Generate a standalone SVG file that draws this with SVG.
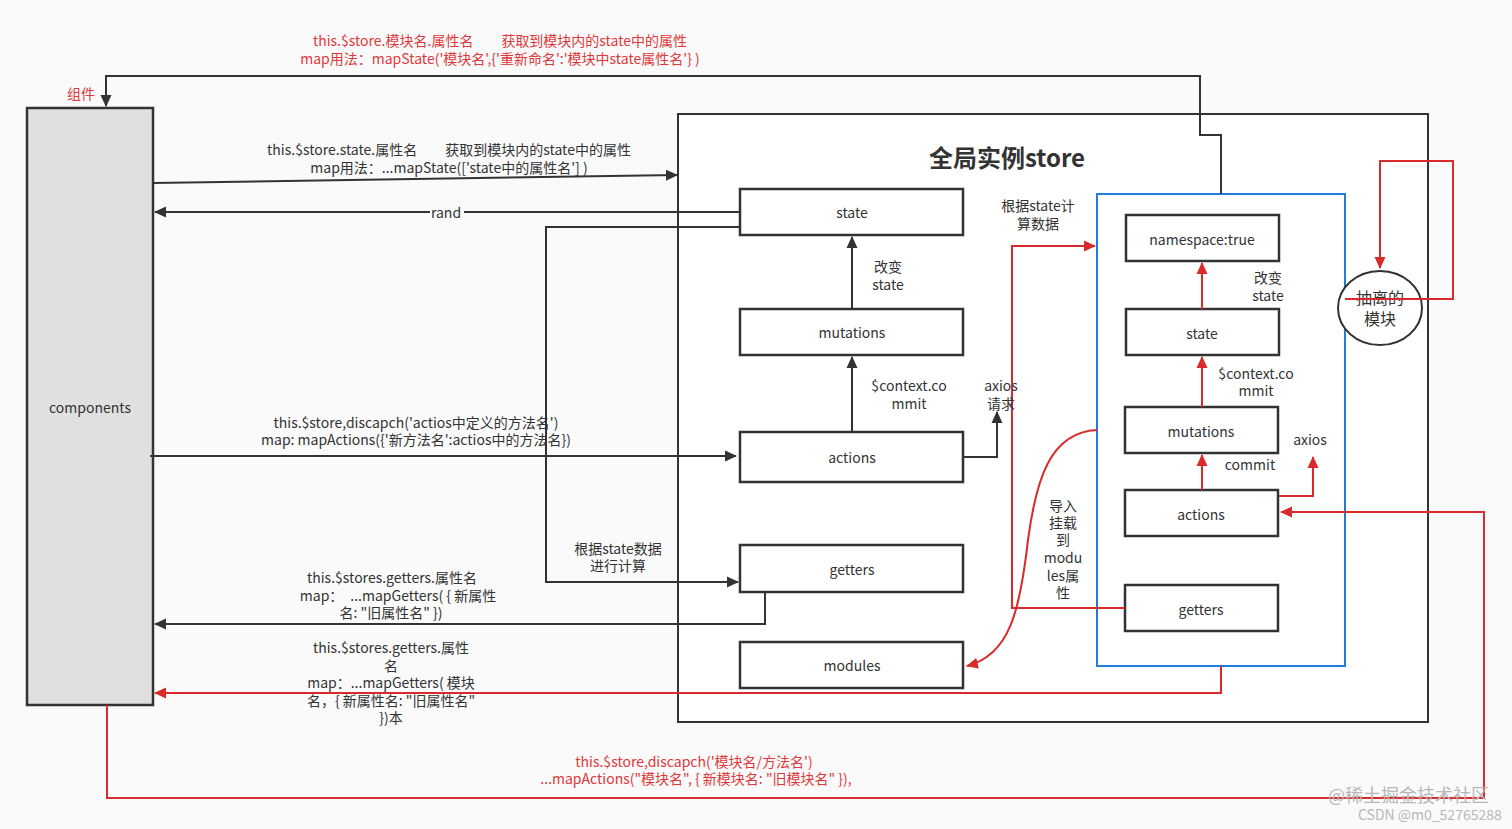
<svg xmlns="http://www.w3.org/2000/svg" width="1512" height="829" viewBox="0 0 1512 829">
<defs>
<marker id="ad" viewBox="0 0 12 12" refX="11" refY="6" markerWidth="12" markerHeight="12" markerUnits="userSpaceOnUse" orient="auto"><path d="M0,0.5 L12,6 L0,11.5 z" fill="#333"/></marker>
<marker id="ar" viewBox="0 0 12 12" refX="11" refY="6" markerWidth="12" markerHeight="12" markerUnits="userSpaceOnUse" orient="auto"><path d="M0,0.5 L12,6 L0,11.5 z" fill="#d92b2b"/></marker>
<style>
text{font-family:"Noto Sans CJK SC","Liberation Sans",sans-serif;font-size:14px;fill:#333;text-anchor:middle}
.red{fill:#e0383a}
.box{fill:#fff;stroke:#333;stroke-width:2.5}
.d{fill:none;stroke:#333;stroke-width:2}
.r{fill:none;stroke:#d92b2b;stroke-width:2}
.wm{fill:#b8b8b8;text-anchor:start}
</style>
</defs>
<rect width="1512" height="829" fill="#fafafa"/>

<g id="store">
<rect x="678" y="114" width="750" height="608" fill="#fff" stroke="#333" stroke-width="2"/>
<text x="1007" y="167" style="font-size:24px;font-weight:bold">全局实例store</text>
</g>
<g id="components">
<rect x="27" y="108" width="126" height="597" fill="#e0e0e0" stroke="#333" stroke-width="2.5"/>
<text x="90" y="413">components</text>
</g>
<g id="module-box">
<rect x="1097" y="194" width="248" height="472" fill="#fff" stroke="#1f7fd8" stroke-width="2"/>
</g>

<g id="state"><rect class="box" x="740" y="189" width="223" height="46"/><text x="852" y="218">state</text></g>
<g id="mutations"><rect class="box" x="740" y="309" width="223" height="46"/><text x="852" y="338">mutations</text></g>
<g id="actions"><rect class="box" x="740" y="432" width="223" height="50"/><text x="852" y="463">actions</text></g>
<g id="getters"><rect class="box" x="740" y="545" width="223" height="47"/><text x="852" y="575">getters</text></g>
<g id="modules"><rect class="box" x="740" y="642" width="223" height="46"/><text x="852" y="671">modules</text></g>

<g id="m-namespace"><rect class="box" x="1126" y="215" width="153" height="46"/><text x="1202" y="245">namespace:true</text></g>
<g id="m-state"><rect class="box" x="1126" y="309" width="153" height="46"/><text x="1202" y="339">state</text></g>
<g id="m-mutations"><rect class="box" x="1125" y="407" width="153" height="46"/><text x="1201" y="437">mutations</text></g>
<g id="m-actions"><rect class="box" x="1125" y="490" width="153" height="46"/><text x="1201" y="520">actions</text></g>
<g id="m-getters"><rect class="box" x="1125" y="585" width="153" height="46"/><text x="1201" y="615">getters</text></g>

<g id="detached">
<ellipse cx="1380" cy="308" rx="42" ry="37" fill="#fff" stroke="#333" stroke-width="2"/>
<text x="1380" y="304" style="font-size:16px">抽离的</text>
<text x="1380" y="325" style="font-size:16px">模块</text>
</g>

<g id="connectors">
<path class="d" d="M1221,194 V135 H1200 V76 H106 V106" marker-end="url(#ad)"/>
<path class="d" d="M153,183 L677,175" marker-end="url(#ad)"/>
<path class="d" d="M740,212 H155" marker-end="url(#ad)"/>
<rect x="430" y="204" width="34" height="17" fill="#fafafa"/>
<text x="446" y="218">rand</text>
<path class="d" d="M740,227 H546 V582 H738" marker-end="url(#ad)"/>
<path class="d" d="M150,456 H736" marker-end="url(#ad)"/>
<path class="d" d="M765,592 V624 H155" marker-end="url(#ad)"/>
<path class="d" d="M852,309 V237" marker-end="url(#ad)"/>
<path class="d" d="M852,432 V357" marker-end="url(#ad)"/>
<path class="d" d="M963,457 H997 V412" marker-end="url(#ad)"/>

<path class="r" d="M1125,608 H1012 V246 H1095" marker-end="url(#ar)"/>
<path class="r" d="M1097,430 C1050,432 1036,480 1028,540 C1020,610 1010,655 967,666" marker-end="url(#ar)"/>
<path class="r" d="M1221,666 V693 H155" marker-end="url(#ar)"/>
<path class="r" d="M107,705 V798 H1484 V512 H1281" marker-end="url(#ar)"/>
<path class="r" d="M1202,309 V263" marker-end="url(#ar)"/>
<path class="r" d="M1202,407 V357" marker-end="url(#ar)"/>
<path class="r" d="M1202,490 V455" marker-end="url(#ar)"/>
<path class="r" d="M1279,496 H1313 V457" marker-end="url(#ar)"/>
<path class="r" d="M1345,299 H1453 V161 H1380 V268" marker-end="url(#ar)"/>
</g>

<g id="labels">
<text class="red" x="500" y="46">this.$store.模块名.属性名　　获取到模块内的state中的属性</text>
<text class="red" x="500" y="64">map用法：mapState('模块名',{'重新命名':'模块中state属性名'} )</text>
<text class="red" x="81" y="99">组件</text>

<text x="449" y="155">this.$store.state.属性名　　获取到模块内的state中的属性</text>
<text x="449" y="173">map用法：...mapState(['state中的属性名'] )</text>

<text x="416" y="428">this.$store,discapch('actios中定义的方法名')</text>
<text x="416" y="445">map:  mapActions({'新方法名':actios中的方法名})</text>

<text x="618" y="554">根据state数据</text>
<text x="618" y="571">进行计算</text>

<text x="392" y="583">this.$stores.getters.属性名</text>
<text x="398" y="601">map：　...mapGetters( { 新属性</text>
<text x="391" y="618">名: "旧属性名" })</text>

<text x="391" y="653">this.$stores.getters.属性</text>
<text x="391" y="671">名</text>
<text x="391" y="688">map：...mapGetters( 模块</text>
<text x="391" y="706">名，{ 新属性名: "旧属性名"</text>
<text x="391" y="723">})本</text>

<text x="888" y="272">改变</text>
<text x="888" y="290">state</text>
<text x="909" y="391">$context.co</text>
<text x="909" y="409">mmit</text>
<text x="1001" y="391">axios</text>
<text x="1001" y="409">请求</text>

<text x="1038" y="211">根据state计</text>
<text x="1038" y="229">算数据</text>

<text x="1063" y="511">导入</text>
<text x="1063" y="528">挂载</text>
<text x="1063" y="545">到</text>
<text x="1063" y="563">modu</text>
<text x="1063" y="581">les属</text>
<text x="1063" y="598">性</text>

<text x="1268" y="283">改变</text>
<text x="1268" y="301">state</text>
<text x="1256" y="379">$context.co</text>
<text x="1256" y="396">mmit</text>
<text x="1250" y="470">commit</text>
<text x="1310" y="445">axios</text>

<text class="red" x="694" y="767">this.$store,discapch('模块名/方法名')</text>
<text class="red" x="696" y="784">...mapActions("模块名", { 新模块名: "旧模块名" }),</text>

<text class="wm" x="1328" y="802" style="font-size:18px">@稀土掘金技术社区</text>
<text class="wm" x="1358" y="820" style="font-size:14px">CSDN @m0_52765288</text>
</g>
</svg>
